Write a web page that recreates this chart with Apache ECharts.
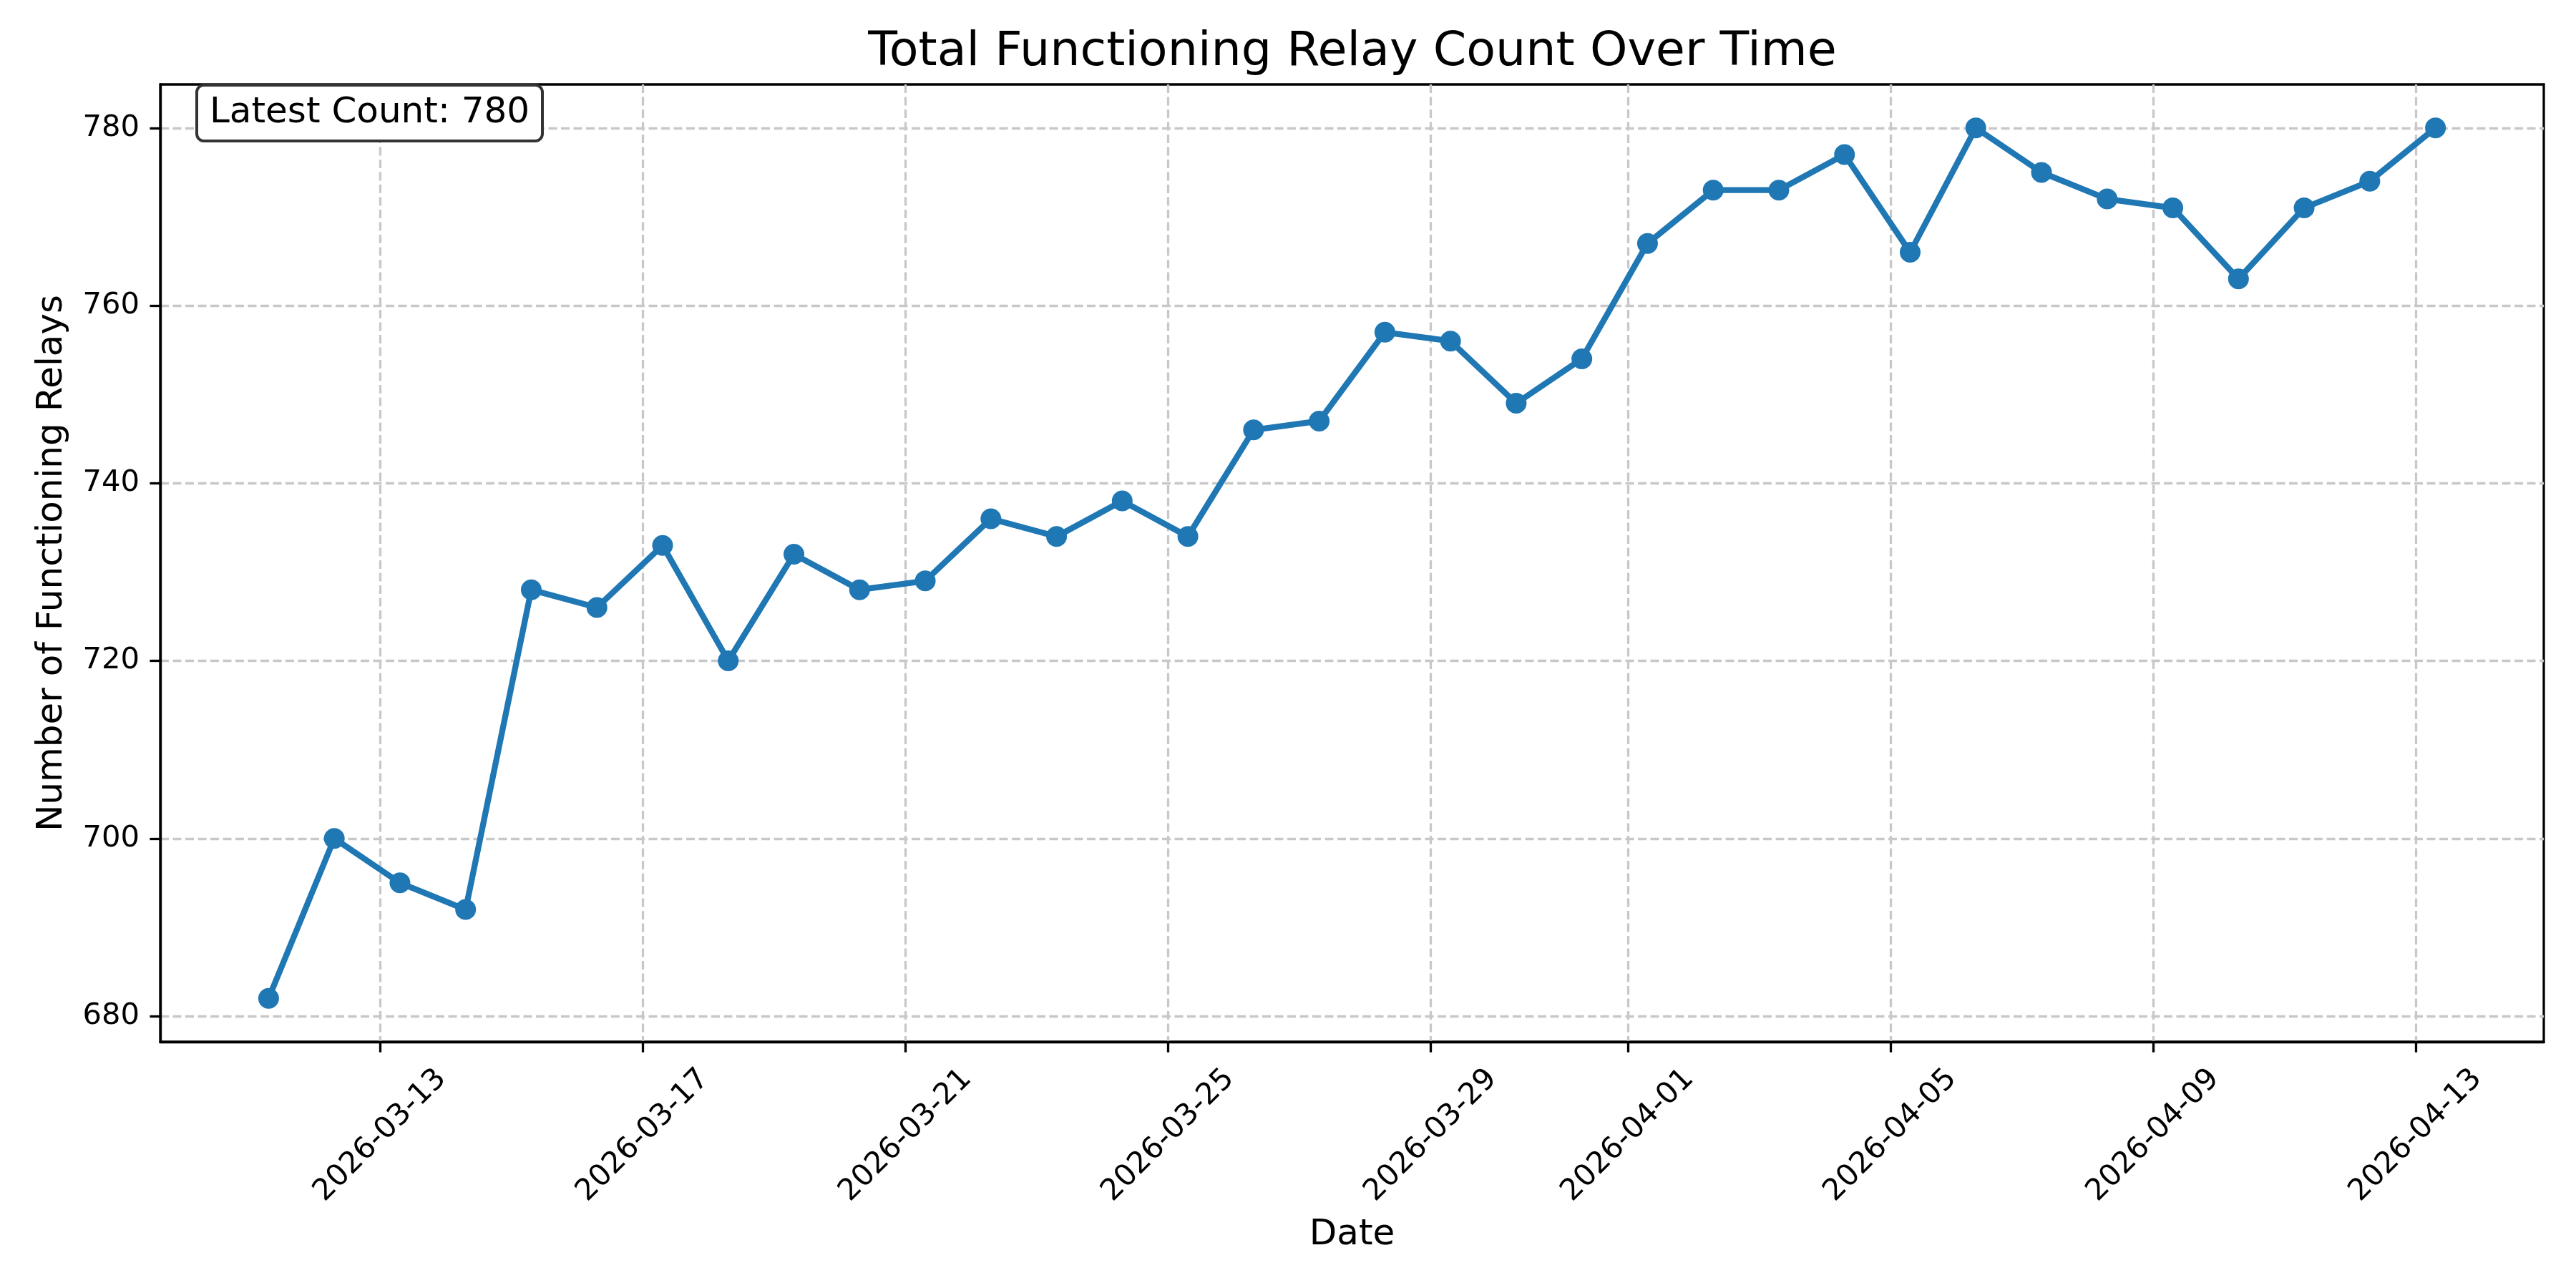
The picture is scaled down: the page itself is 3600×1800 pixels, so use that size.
<!DOCTYPE html>
<html>
<head>
<meta charset="utf-8">
<script src="https://cdn.jsdelivr.net/npm/echarts@6/dist/echarts.min.js"></script>
<style>
  html, body { margin: 0; padding: 0; background: #fff; }
  #chart { width: 3600px; height: 1800px; }
</style>
</head>
<body>
<div id="chart"></div>
<script>
// daily samples (taken around 07:10 UTC each day)
var dates = [
    '2026-03-11', '2026-03-12', '2026-03-13', '2026-03-14', '2026-03-15', '2026-03-16',
    '2026-03-17', '2026-03-18', '2026-03-19', '2026-03-20', '2026-03-21', '2026-03-22',
    '2026-03-23', '2026-03-24', '2026-03-25', '2026-03-26', '2026-03-27', '2026-03-28',
    '2026-03-29', '2026-03-30', '2026-03-31', '2026-04-01', '2026-04-02', '2026-04-03',
    '2026-04-04', '2026-04-05', '2026-04-06', '2026-04-07', '2026-04-08', '2026-04-09',
    '2026-04-10', '2026-04-11', '2026-04-12', '2026-04-13'
];
var sampleTime = 'T07:10:00Z';
var relayCounts = [
    682, 700, 695, 692, 728, 726, 733, 720, 732, 728, 729, 736,
    734, 738, 734, 746, 747, 757, 756, 749, 754, 767, 773, 773,
    777, 766, 780, 775, 772, 771, 763, 771, 774, 780
];
var dateTicks = ['2026-03-13', '2026-03-17', '2026-03-21', '2026-03-25', '2026-03-29',
                 '2026-04-01', '2026-04-05', '2026-04-09', '2026-04-13'];
var countTicks = [680, 700, 720, 740, 760, 780];

var FONT = 'DejaVu Sans';
var GRID_LINE = { color: '#c8c8c8', width: 3.3, type: [12, 5.5] };

var times = dates.map(function (d) { return Date.parse(d + sampleTime); });
var tickTimes = dateTicks.map(function (d) { return Date.parse(d + 'T00:00:00Z'); });
var seriesData = times.map(function (t, i) { return [t, relayCounts[i]]; });

// matplotlib style 5% margins
var tSpan = times[times.length - 1] - times[0];
var yLo = Math.min.apply(null, relayCounts), yHi = Math.max.apply(null, relayCounts);
var ySpan = yHi - yLo;

function fmtDate(v) {
    var d = new Date(v);
    var m = d.getUTCMonth() + 1, day = d.getUTCDate();
    return d.getUTCFullYear() + '-' + (m < 10 ? '0' : '') + m + '-' + (day < 10 ? '0' : '') + day;
}

var chart = echarts.init(document.getElementById('chart'));
var option = {
    animation: false,
    backgroundColor: '#fff',
    title: [
        {
            text: 'Total Functioning Relay Count Over Time',
            left: 1890, top: 40, textAlign: 'center', padding: 0,
            textStyle: { fontFamily: FONT, fontSize: 66.7, fontWeight: 'normal', color: '#000' }
        },
        {
            text: 'Latest Count: ' + relayCounts[relayCounts.length - 1],
            left: 275, top: 119,
            padding: [14, 18],
            backgroundColor: '#fff',
            borderColor: '#333',
            borderWidth: 4,
            borderRadius: 10,
            textStyle: { fontFamily: FONT, fontSize: 50, fontWeight: 'normal', color: '#000' }
        }
    ],
    grid: {
        left: 224, right: 45, top: 118, bottom: 344,
        show: true, borderColor: '#000', borderWidth: 3.3
    },
    xAxis: {
        type: 'value',
        min: times[0] - 0.05 * tSpan,
        max: times[times.length - 1] + 0.05 * tSpan,
        name: 'Date',
        nameLocation: 'middle',
        nameGap: 270,
        nameTextStyle: { fontFamily: FONT, fontSize: 50, color: '#000', verticalAlign: 'middle' },
        axisLine: { show: true, lineStyle: { color: '#000', width: 3.3 } },
        axisTick: { show: true, length: 14.6, lineStyle: { color: '#000', width: 3.3 }, customValues: tickTimes },
        axisLabel: {
            customValues: tickTimes,
            formatter: fmtDate,
            rotate: 45,
            align: 'center',
            verticalAlign: 'middle',
            margin: 131,
            fontFamily: FONT, fontSize: 41.7, color: '#000'
        },
        splitLine: { show: true, lineStyle: GRID_LINE }
    },
    yAxis: {
        type: 'value',
        min: yLo - 0.05 * ySpan,
        max: yHi + 0.05 * ySpan,
        name: 'Number of Functioning Relays',
        nameLocation: 'middle',
        nameRotate: 90,
        nameGap: 151,
        nameTextStyle: { fontFamily: FONT, fontSize: 50, color: '#000', verticalAlign: 'middle' },
        axisLine: { show: true, lineStyle: { color: '#000', width: 3.3 } },
        axisTick: { show: true, length: 14.6, lineStyle: { color: '#000', width: 3.3 }, customValues: countTicks },
        axisLabel: {
            customValues: countTicks,
            margin: 29,
            fontFamily: FONT, fontSize: 41.7, color: '#000'
        },
        splitLine: { show: true, lineStyle: GRID_LINE }
    },
    series: [
        {
            name: 'Relays',
            type: 'line',
            data: seriesData,
            color: '#1f77b4',
            lineStyle: { width: 8.3, color: '#1f77b4' },
            symbol: 'circle',
            symbolSize: 29,
            itemStyle: { color: '#1f77b4' }
        }
    ]
};
chart.setOption(option);
</script>
</body>
</html>
